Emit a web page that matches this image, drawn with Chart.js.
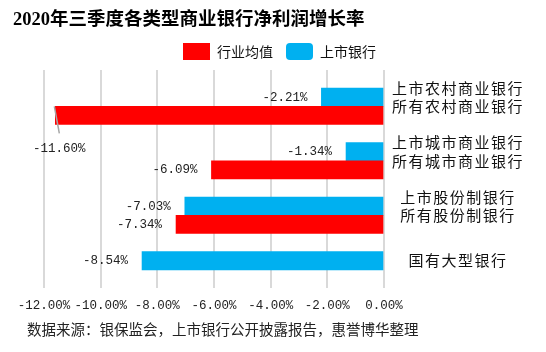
<!DOCTYPE html>
<html>
<head>
<meta charset="utf-8">
<script src="https://cdn.jsdelivr.net/npm/chart.js@4.4.0/dist/chart.umd.min.js"></script>
<style>
    html, body { margin: 0; padding: 0; background: #fff; }
    #wrap { position: relative; width: 546px; height: 352px; }
    #title { position: absolute; left: 13px; top: 8px; font: bold 18.5px/22px "Liberation Serif", "Noto Sans CJK SC", serif; color: #000; white-space: nowrap; }
    #note { position: absolute; left: 27px; top: 319px; font: 14.5px/20px "Noto Sans CJK SC", sans-serif; color: #222; white-space: nowrap; }
</style>
</head>
<body>
<div id="wrap">
    <canvas id="chart" width="546" height="352"></canvas>
    <div id="title">2020年三季度各类型商业银行净利润增长率</div>
    <div id="note">数据来源：银保监会，上市银行公开披露报告，惠誉博华整理</div>
</div>
<script>
// 每根柱子一个槽位，空槽用来隔开各组
const barSlots = ['', '上市农村商业银行', '所有农村商业银行', '', '上市城市商业银行', '所有城市商业银行', '', '上市股份制银行', '所有股份制银行', '', '国有大型银行', ''];
const groupLabels = [
    ['上市农村商业银行', '所有农村商业银行'],
    ['上市城市商业银行', '所有城市商业银行'],
    ['上市股份制银行', '所有股份制银行'],
    '国有大型银行'
];
const industryAvg = [null, null, -11.60, null, null, -6.09, null, null, -7.34, null, null, null];
const listedBanks = [null, -2.21, null, null, -1.34, null, null, -7.03, null, null, -8.54, null];
const xTicks = [-12, -10, -8, -6, -4, -2, 0];

const RED = '#FF0000';
const BLUE = '#00B0F0';
const monoFont = '"Liberation Mono", "DejaVu Sans Mono", monospace';
const cjkFont = '"Noto Sans CJK SC", sans-serif';

// 数值标签：放在柱子左端外侧，放不下时挪到下方并加引导线
const valueLabels = {
    id: 'valueLabels',
    afterDatasetsDraw(chart) {
        const ctx = chart.ctx;
        ctx.save();
        ctx.font = '12.5px ' + monoFont;
        ctx.fillStyle = '#222';
        ctx.textBaseline = 'middle';
        chart.data.datasets.forEach((ds, di) => {
            const meta = chart.getDatasetMeta(di);
            meta.data.forEach((bar, i) => {
                const v = ds.data[i];
                if (v === null || v === undefined) return;
                const text = v.toFixed(2) + '%';
                const w = ctx.measureText(text).width;
                if (bar.x - 14 - w < 10) {
                    ctx.strokeStyle = '#a6a6a6';
                    ctx.lineWidth = 1.5;
                    ctx.beginPath();
                    ctx.moveTo(bar.x - 1, bar.y - 9);
                    ctx.lineTo(bar.x + 4, bar.y + 18);
                    ctx.stroke();
                    ctx.textAlign = 'center';
                    ctx.fillText(text, bar.x + 4, bar.y + 33);
                } else {
                    ctx.textAlign = 'right';
                    ctx.fillText(text, bar.x - 14, bar.y);
                }
            });
        });
        ctx.restore();
    }
};

// 右侧分类标签字距稍宽
function spacedLabels(scale) {
    if (scale._spaced) return;
    scale._spaced = true;
    const orig = scale.drawLabels.bind(scale);
    scale.drawLabels = function (area) {
        const c = this.ctx;
        const prev = c.letterSpacing;
        c.letterSpacing = '1.5px';
        orig(area);
        c.letterSpacing = prev || '0px';
    };
}

const ctx = document.getElementById('chart').getContext('2d');
new Chart(ctx, {
    type: 'bar',
    data: {
        labels: barSlots,
        datasets: [
            {
                label: '行业均值',
                data: industryAvg,
                backgroundColor: RED,
                grouped: false,
                barPercentage: 1,
                categoryPercentage: 1
            },
            {
                label: '上市银行',
                data: listedBanks,
                backgroundColor: BLUE,
                grouped: false,
                barPercentage: 1,
                categoryPercentage: 1
            }
        ]
    },
    options: {
        indexAxis: 'y',
        responsive: false,
        animation: false,
        // 顶部留给 HTML 标题
        layout: { padding: { left: 13, right: 0, top: 30, bottom: 29 } },
        scales: {
            x: {
                min: -12,
                max: 0,
                afterBuildTicks: scale => { scale.ticks = xTicks.map(v => ({ value: v })); },
                grid: { color: '#d9d9d9', lineWidth: 2, drawTicks: false },
                border: { display: false },
                ticks: {
                    padding: 10,
                    minRotation: 0,
                    maxRotation: 0,
                    autoSkip: false,
                    color: '#222',
                    font: { family: monoFont, size: 12.5 },
                    callback: v => Number(v).toFixed(2) + '%'
                }
            },
            y: {
                // 左侧留白用的空轴
                display: true,
                grid: { display: false, drawTicks: false },
                border: { display: false },
                ticks: { display: false },
                afterFit: scale => { scale.width = 31; }
            },
            y2: {
                type: 'category',
                labels: groupLabels,
                position: 'right',
                offset: true,
                grid: { display: false, drawTicks: false },
                border: { display: false },
                afterFit: scale => { scale.width = 162; spacedLabels(scale); },
                ticks: {
                    crossAlign: 'center',
                    padding: 14,
                    color: '#111',
                    font: { family: cjkFont, size: 15, lineHeight: 1.22 }
                }
            }
        },
        plugins: {
            title: { display: false },
            legend: {
                position: 'top',
                labels: {
                    boxWidth: 27,
                    boxHeight: 17,
                    padding: 13,
                    color: '#111',
                    font: { family: cjkFont, size: 14 },
                    useBorderRadius: true,
                    generateLabels: chart => {
                        const items = Chart.defaults.plugins.legend.labels.generateLabels(chart);
                        items.forEach((it, i) => { it.borderRadius = i === 1 ? 4 : 0; it.lineWidth = 0; });
                        return items;
                    }
                }
            },
            tooltip: { enabled: false }
        }
    },
    plugins: [valueLabels]
});
</script>
</body>
</html>
